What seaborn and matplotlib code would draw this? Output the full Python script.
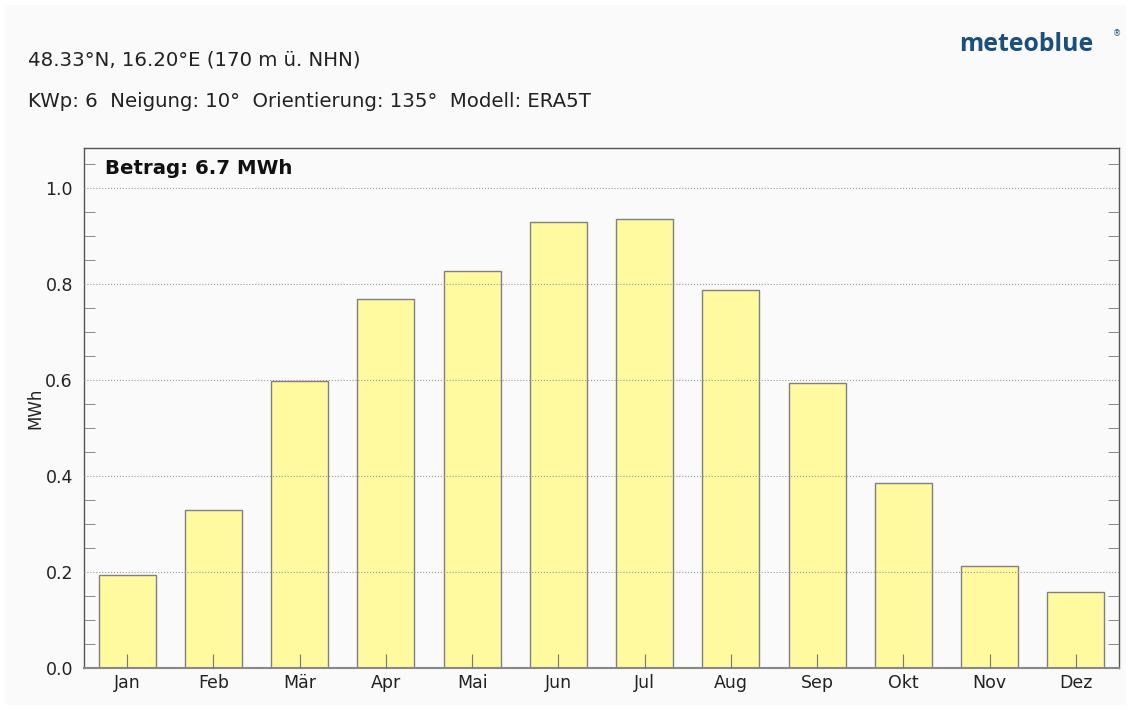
import matplotlib.pyplot as plt
import matplotlib.patches as mpatches
from matplotlib.ticker import MultipleLocator
import seaborn as sns
import pandas as pd

# monthly PV yield
months = ['Jan', 'Feb', 'Mär', 'Apr', 'Mai', 'Jun', 'Jul', 'Aug', 'Sep', 'Okt', 'Nov', 'Dez']
yield_mwh = [0.194, 0.329, 0.598, 0.769, 0.827, 0.929, 0.935, 0.788, 0.594, 0.385, 0.213, 0.158]

df = pd.DataFrame({'Monat': months, 'MWh': yield_mwh})

sns.set_style('white')
plt.rcParams['font.family'] = ['DejaVu Sans']

fig = plt.figure(figsize=(11.31, 7.10), dpi=100, facecolor='white')
# light grey panel with thin white border
fig.patches.append(mpatches.Rectangle((5 / 1131, 5 / 710), 1121 / 1131, 700 / 710,
                                      transform=fig.transFigure, facecolor='#fafafa',
                                      edgecolor='none', zorder=-5))

ax = fig.add_axes([84 / 1131, 42 / 710, 1035 / 1131, 520 / 710])
ax.set_facecolor('#fafafa')

sns.barplot(data=df, x='Monat', y='MWh', color='#fff9a0', saturation=1,
            width=0.66, edgecolor='#808080', linewidth=1, ax=ax, zorder=1)

ax.set_xlim(-0.5, 11.5)
ax.set_ylim(0, 1.0833)
ax.yaxis.set_major_locator(MultipleLocator(0.2))
ax.yaxis.set_minor_locator(MultipleLocator(0.05))
ax.yaxis.grid(True, which='major', linestyle=':', color='#999999', linewidth=0.8, zorder=3)
ax.set_axisbelow(False)

ax.tick_params(axis='y', which='major', length=0, labelsize=12.5, pad=8, colors='#222222')
ax.tick_params(axis='y', which='minor', direction='in', length=8, color='#777777',
               left=True, right=True)
ax.tick_params(axis='x', which='major', direction='in', length=10, color='#777777',
               labelsize=12.5, pad=4, labelcolor='#222222', bottom=True)

for side in ['left', 'right', 'top']:
    ax.spines[side].set_color('#555555')
    ax.spines[side].set_linewidth(1)
ax.spines['bottom'].set_color('#888888')
ax.spines['bottom'].set_linewidth(1.5)

ax.set_xlabel('')
ax.set_ylabel('MWh', fontsize=12, labelpad=1, color='#222222')

ax.text(0.020, 0.978, 'Betrag: 6.7 MWh', transform=ax.transAxes, fontsize=14.2,
        fontweight='bold', va='top', ha='left', color='#111111')

fig.text(28 / 1131, 1 - 66 / 710, '48.33°N, 16.20°E (170 m ü. NHN)', fontsize=14.2,
         va='baseline', color='#222222')
fig.text(28 / 1131, 1 - 107 / 710, 'KWp: 6  Neigung: 10°  Orientierung: 135°  Modell: ERA5T',
         fontsize=14.2, va='baseline', color='#222222')

fig.text(1093 / 1131, 1 - 51 / 710, 'meteoblue', fontsize=17.8, fontweight='bold',
         family=['Open Sans', 'DejaVu Sans'], color='#1b4f7c', ha='right', va='baseline')
fig.text(1121 / 1131, 1 - 36 / 710, '®', fontsize=6, color='#1b4f7c', ha='right', va='baseline')

fig.savefig('out.png', dpi=100, facecolor=fig.get_facecolor())
